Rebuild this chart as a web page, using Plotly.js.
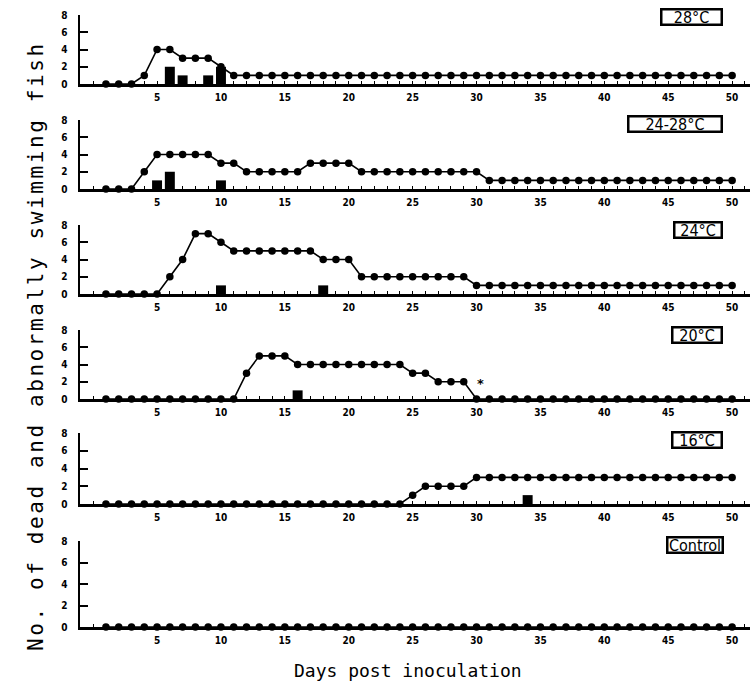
<!DOCTYPE html>
<html><head><meta charset="utf-8">
<script src="https://cdn.plot.ly/plotly-3.0.1.min.js"></script>
<style>body{margin:0;background:#fff}#chart{width:754px;height:698px}</style>
</head><body><div id="chart"></div>
<script>
const days = [1,2,3,4,5,6,7,8,9,10,11,12,13,14,15,16,17,18,19,20,21,22,23,24,25,26,27,28,29,30,31,32,33,34,35,36,37,38,39,40,41,42,43,44,45,46,47,48,49,50];
const xTicks = [5,10,15,20,25,30,35,40,45,50];
const yTicks = [0,2,4,6,8];
const panelLabels = ["28°C","24-28°C","24°C","20°C","16°C","Control"];

const v28   = [0,0,0,1,4,4,3,3,3,2, 1,1,1,1,1,1,1,1,1,1, 1,1,1,1,1,1,1,1,1,1, 1,1,1,1,1,1,1,1,1,1, 1,1,1,1,1,1,1,1,1,1];
const v2428 = [0,0,0,2,4,4,4,4,4,3, 3,2,2,2,2,2,3,3,3,3, 2,2,2,2,2,2,2,2,2,2, 1,1,1,1,1,1,1,1,1,1, 1,1,1,1,1,1,1,1,1,1];
const v24   = [0,0,0,0,0,2,4,7,7,6, 5,5,5,5,5,5,5,4,4,4, 2,2,2,2,2,2,2,2,2,1, 1,1,1,1,1,1,1,1,1,1, 1,1,1,1,1,1,1,1,1,1];
const v20   = [0,0,0,0,0,0,0,0,0,0, 0,3,5,5,5,4,4,4,4,4, 4,4,4,4,3,3,2,2,2,0, 0,0,0,0,0,0,0,0,0,0, 0,0,0,0,0,0,0,0,0,0];
const v16   = [0,0,0,0,0,0,0,0,0,0, 0,0,0,0,0,0,0,0,0,0, 0,0,0,0,1,2,2,2,2,3, 3,3,3,3,3,3,3,3,3,3, 3,3,3,3,3,3,3,3,3,3];
const vCtrl = [0,0,0,0,0,0,0,0,0,0, 0,0,0,0,0,0,0,0,0,0, 0,0,0,0,0,0,0,0,0,0, 0,0,0,0,0,0,0,0,0,0, 0,0,0,0,0,0,0,0,0,0];

const bar28Days = [6,7,9,10],   bar28Vals = [2,1,1,2];
const bar2428Days = [5,6,10],   bar2428Vals = [1,2,1];
const bar24Days = [10,18],      bar24Vals = [1,1];
const bar20Days = [16],         bar20Vals = [1];
const bar16Days = [34],         bar16Vals = [1];
const barCtrlDays = [],         barCtrlVals = [];

const lineSeries = [v28, v2428, v24, v20, v16, vCtrl];
const barDays = [bar28Days, bar2428Days, bar24Days, bar20Days, bar16Days, barCtrlDays];
const barVals = [bar28Vals, bar2428Vals, bar24Vals, bar20Vals, bar16Vals, barCtrlVals];

// panel pixel geometry (top=8 line, bottom=0 line)
const H = 698;
const panelPx = [[15,84],[120,189],[225,294],[330,399],[433,504],[541,627]];
const boxPx = [[660,8,63,18],[627,115,96,18],[673,221,50,18],[671,326,52,18],[671,431,52,18],[666,536,58,18]];

const tickFont = {family:"'Liberation Sans Narrow','DejaVu Sans Condensed',sans-serif", size:10, color:'#000', weight:'bold'};
const traces = [];
const layout = {
  width:754, height:698,
  margin:{l:80, r:4, t:0, b:0},
  paper_bgcolor:'#fff', plot_bgcolor:'rgba(0,0,0,0)',
  showlegend:false,
  annotations:[]
};
const plotW = 754-80-4;
for (let i=0;i<6;i++){
  const s = i===0 ? '' : String(i+1);
  traces.push({type:'scatter', mode:'lines+markers', x:days, y:lineSeries[i], xaxis:'x'+s, yaxis:'y'+s,
    line:{color:'#000', width:1.6}, marker:{color:'#000', size:7.5}, cliponaxis:false});
  traces.push({type:'bar', x:barDays[i], y:barVals[i], xaxis:'x'+s, yaxis:'y'+s, width:0.78,
    marker:{color:'#000', line:{width:0}}});
  layout['xaxis'+s] = {
    anchor:'y'+s, range:[-1.03,51.4], showline:true, linewidth:2.5, linecolor:'#000',
    showgrid:false, zeroline:false, tickvals:xTicks, ticks:'inside', ticklen:3, tickwidth:1,
    tickcolor:'#000', tickfont:tickFont, ticklabelstandoff:2,
    minor:{dtick:1, tick0:0, ticks:'inside', ticklen:3, tickwidth:1, tickcolor:'#000', showgrid:false}
  };
  layout['yaxis'+s] = {
    anchor:'x'+s, domain:[1-panelPx[i][1]/H, 1-panelPx[i][0]/H], range:[0,8],
    showline:true, linewidth:2.5, linecolor:'#000', showgrid:false, zeroline:false,
    tickvals:yTicks, ticks:'inside', ticklen:8, tickwidth:2, tickcolor:'#000',
    tickfont:tickFont, ticklabelstandoff:8
  };
  const b = boxPx[i];
  layout.annotations.push({
    xref:'paper', yref:'paper', x:(b[0]+b[2]-80)/plotW, y:1-b[1]/H, xanchor:'right', yanchor:'top',
    text:panelLabels[i], showarrow:false, width:b[2]-5, height:b[3]-5, borderpad:0, valign:'middle',
    bordercolor:'#000', borderwidth:2.5, bgcolor:'#fff',
    font:{family:"'Liberation Sans Narrow','DejaVu Sans Condensed',sans-serif", size:16, color:'#000'}
  });
}
layout.annotations.push({xref:'x4', yref:'y4', x:30.3, y:1.8, text:'*', showarrow:false,
  font:{family:'DejaVu Sans', size:13, color:'#000', weight:'bold'}});
layout.annotations.push({xref:'paper', yref:'paper', x:(22-80)/plotW, y:1-346/H, textangle:-90,
  text:'<span style="letter-spacing:2.6px">No. of dead and abnormally swimming fish</span>', showarrow:false,
  font:{family:"'DejaVu Sans Mono',monospace", size:21, color:'#000'}});
layout.annotations.push({xref:'paper', yref:'paper', x:(408-80)/plotW, y:1-683/H,
  text:'Days post inoculation', showarrow:false,
  font:{family:"'DejaVu Sans Mono',monospace", size:18, color:'#000'}});

Plotly.newPlot('chart', traces, layout, {displayModeBar:false, staticPlot:true});
</script></body></html>
